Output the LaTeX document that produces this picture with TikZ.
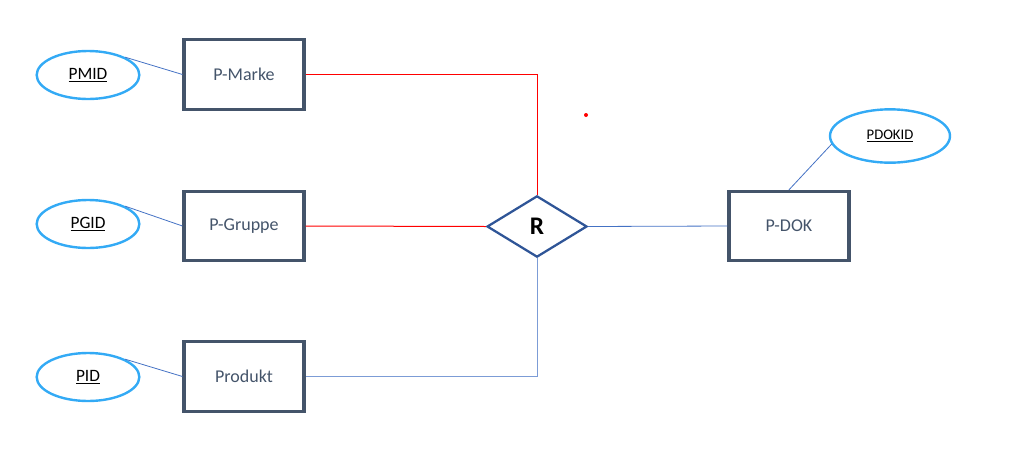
\documentclass[tikz,border=0pt]{standalone}
\usepackage{fontspec}
\setmainfont{Carlito}
\usetikzlibrary{shapes.geometric}
\definecolor{boxgray}{RGB}{68,84,106}
\definecolor{attrblue}{RGB}{51,170,245}
\definecolor{relblue}{RGB}{47,85,151}
\definecolor{linkblue}{RGB}{68,114,196}
\tikzset{
    entity/.style={draw=boxgray, line width=2.3pt, minimum width=90pt, minimum height=52pt,
        inner sep=0pt, text=boxgray, font=\fontsize{13.5}{15}\selectfont},
    attrib/.style={draw=attrblue, ellipse, line width=1.8pt, minimum width=77pt, minimum height=36pt,
        inner sep=0pt, font=\fontsize{13}{15}\selectfont},
    relation/.style={draw=relblue, diamond, line width=1.7pt, shape aspect=1.64, minimum width=75pt,
        minimum height=46pt, inner sep=0pt, font=\fontsize{19}{21}\selectfont\bfseries},
    link/.style={draw=linkblue, line width=0.6pt},
    redlink/.style={draw=red, line width=0.75pt}
}
\begin{document}
\begin{tikzpicture}[x=0.75pt,y=-0.75pt]
    \useasboundingbox (0,0) rectangle (1010,454);
    % entities
    \node[entity] (marke) at (244,74.5) {P-Marke};
    \node[entity] (gruppe) at (244,226) {P-Gruppe};
    \node[entity] (produkt) at (244,376.5) {Produkt};
    \node[entity] (dok) at (789,226) {P-DOK};
    % attributes
    \node[attrib] (pmid) at (88,75) {\underline{PMID}};
    \node[attrib] (pgid) at (88,224) {\underline{PGID}};
    \node[attrib] (pid) at (88,377) {\underline{PID}};
    \node[attrib, minimum width=90pt, minimum height=40pt, font=\fontsize{11}{13}\selectfont] (pdokid) at (890,136) {\underline{PDOKID}};
    % relationship
    \node[relation] (r) at (537,226.5) {R};
    \draw[link] (pmid.north east) -- (marke.west);
    \draw[link] (pgid.north east) -- (gruppe.west);
    \draw[link] (pid.north east) -- (produkt.west);
    \draw[link] (dok.north) -- (pdokid.188);
    \draw[redlink] (marke.east) -| (r.north);
    \draw[redlink] (gruppe.east) -- (r.west);
    \draw[link] (r.east) -- (dok.west);
    \draw[link, draw=linkblue!70] (r.south) |- (produkt.east);
    \fill[red] (586,115) circle (2);
\end{tikzpicture}
\end{document}
